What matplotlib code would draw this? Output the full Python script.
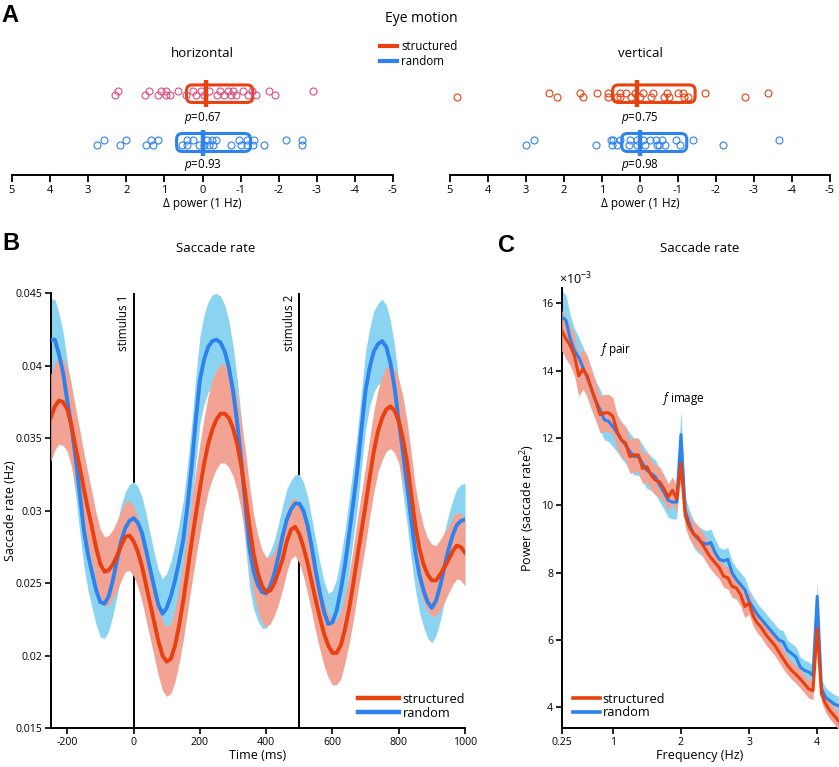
import numpy as np
import matplotlib
matplotlib.use('Agg')
import matplotlib.pyplot as plt
from matplotlib.patches import FancyBboxPatch
from matplotlib.lines import Line2D

plt.rcParams['font.family'] = ['Open Sans', 'DejaVu Sans']
plt.rcParams['mathtext.fontset'] = 'custom'
plt.rcParams['mathtext.rm'] = 'Open Sans'
plt.rcParams['mathtext.it'] = 'Open Sans:italic'
plt.rcParams['mathtext.bf'] = 'Open Sans:bold'
plt.rcParams['axes.unicode_minus'] = False

RED = '#e8400f'
BLUE = '#2e82ee'
RED_BAND = '#f2a394'
BLUE_BAND = '#8ad4f2'
PINK = '#e24b7c'

# ---------------- Panel A data (delta power at 1 Hz) ----------------
horiz_struct_upper = [2.22, 1.41, 1.09, 0.97, 0.64, 0.25, 0.04, -0.18, -0.47, -0.67, -0.81, -1.05, -1.31, -1.74, -2.91]
horiz_struct_lower = [2.30, 1.51, 1.16, 0.95, 0.84, 0.42, 0.16, -0.04, -0.37, -0.57, -0.74, -0.88, -1.20, -1.40, -1.91]
horiz_rand_upper = [2.59, 2.01, 1.34, 1.18, 0.40, 0.25, -0.12, -0.26, -0.35, -0.95, -1.16, -1.35, -2.19, -2.60]
horiz_rand_lower = [2.77, 2.17, 1.47, 1.31, 0.55, 0.40, 0.09, -0.04, -0.17, -0.28, -0.74, -1.02, -1.17, -1.33, -1.61, -2.60]
vert_struct_upper = [2.39, 1.58, 1.14, 0.83, 0.53, 0.37, 0.13, -0.07, -0.35, -0.72, -0.99, -1.14, -1.71, -3.38]
vert_struct_lower = [4.82, 2.19, 1.49, 0.83, 0.61, 0.53, 0.25, 0.0, -0.29, -0.64, -0.77, -1.17, -1.25, -2.75]
vert_rand_upper = [2.79, 0.77, 0.72, 0.53, 0.26, 0.09, -0.07, -0.26, -0.42, -0.57, -0.95, -1.40, -3.66]
vert_rand_lower = [3.0, 1.16, 0.75, 0.61, 0.28, 0.09, -0.13, -0.44, -0.51, -0.66, -1.05, -2.19]

horiz_struct_box = (0.42, -1.32)
horiz_struct_median = -0.10
horiz_rand_box = (0.68, -1.26)
horiz_rand_median = 0.0
vert_struct_box = (0.72, -1.45)
vert_struct_median = 0.09
vert_rand_box = (0.48, -1.23)
vert_rand_median = 0.0

horiz_p = ['0.67', '0.93']
vert_p = ['0.75', '0.98']
a_ticks = [5, 4, 3, 2, 1, 0, -1, -2, -3, -4, -5]
a_ticklabels = ['5', '4', '3', '2', '1', '0', '-1', '-2', '-3', '-4', '-5']

# ---------------- Panel B data (saccade rate, Hz), every 12.5 ms from -250 to 1000 ----------------
time_ms = np.arange(-250, 1000.1, 12.5)
struct_rate = [0.0364, 0.0372, 0.0376, 0.0375, 0.0370, 0.0359, 0.0344, 0.0330, 0.0315, 0.0301,
               0.0288, 0.0274, 0.0263, 0.0258, 0.0259, 0.0263, 0.0269, 0.0276, 0.0282, 0.0283,
               0.0279, 0.0272, 0.0262, 0.0249, 0.0236, 0.0223, 0.0210, 0.0200, 0.0196, 0.0198,
               0.0207, 0.0221, 0.0238, 0.0258, 0.0278, 0.0297, 0.0315, 0.0332, 0.0346, 0.0356,
               0.0363, 0.0367, 0.0367, 0.0364, 0.0357, 0.0346, 0.0331, 0.0311, 0.0289, 0.0270,
               0.0257, 0.0248, 0.0244, 0.0245, 0.0250, 0.0258, 0.0267, 0.0279, 0.0287, 0.0289,
               0.0284, 0.0275, 0.0264, 0.0251, 0.0238, 0.0226, 0.0215, 0.0207, 0.0202, 0.0202,
               0.0207, 0.0218, 0.0232, 0.0249, 0.0268, 0.0286, 0.0304, 0.0323, 0.0341, 0.0355,
               0.0364, 0.0370, 0.0372, 0.0369, 0.0362, 0.0350, 0.0334, 0.0312, 0.0290, 0.0274,
               0.0263, 0.0256, 0.0252, 0.0252, 0.0256, 0.0261, 0.0266, 0.0272, 0.0276, 0.0275,
               0.0271]
rand_rate = [0.0418, 0.0418, 0.0408, 0.0395, 0.0376, 0.0358, 0.0337, 0.0312, 0.0287, 0.0270,
             0.0257, 0.0245, 0.0237, 0.0236, 0.0241, 0.0252, 0.0266, 0.0279, 0.0288, 0.0293,
             0.0295, 0.0292, 0.0285, 0.0273, 0.0260, 0.0247, 0.0235, 0.0229, 0.0233, 0.0241,
             0.0252, 0.0265, 0.0280, 0.0303, 0.0330, 0.0362, 0.0390, 0.0404, 0.0413, 0.0417,
             0.0418, 0.0416, 0.0410, 0.0399, 0.0383, 0.0361, 0.0335, 0.0304, 0.0274, 0.0258,
             0.0249, 0.0244, 0.0243, 0.0248, 0.0257, 0.0269, 0.0283, 0.0294, 0.0301, 0.0305,
             0.0305, 0.0300, 0.0290, 0.0275, 0.0258, 0.0243, 0.0230, 0.0222, 0.0223, 0.0231,
             0.0245, 0.0262, 0.0283, 0.0305, 0.0328, 0.0356, 0.0383, 0.0399, 0.0410, 0.0415,
             0.0417, 0.0413, 0.0402, 0.0385, 0.0362, 0.0341, 0.0318, 0.0294, 0.0272, 0.0256,
             0.0245, 0.0237, 0.0233, 0.0238, 0.0248, 0.0261, 0.0273, 0.0283, 0.0290, 0.0293,
             0.0294]
struct_rate_err = [0.0030, 0.0030, 0.0030, 0.0030, 0.0029, 0.0028, 0.0027, 0.0026, 0.0025, 0.0025,
                   0.0024, 0.0024, 0.0024, 0.0024, 0.0024, 0.0024, 0.0024, 0.0024, 0.0024, 0.0024,
                   0.0024, 0.0024, 0.0024, 0.0024, 0.0024, 0.0024, 0.0024, 0.0024, 0.0024, 0.0024,
                   0.0025, 0.0026, 0.0027, 0.0028, 0.0029, 0.0030, 0.0031, 0.0032, 0.0033, 0.0034,
                   0.0034, 0.0034, 0.0034, 0.0034, 0.0033, 0.0032, 0.0031, 0.0030, 0.0028, 0.0027,
                   0.0026, 0.0025, 0.0024, 0.0023, 0.0022, 0.0022, 0.0021, 0.0021, 0.0020, 0.0020,
                   0.0020, 0.0020, 0.0021, 0.0021, 0.0022, 0.0022, 0.0022, 0.0022, 0.0022, 0.0022,
                   0.0023, 0.0023, 0.0024, 0.0025, 0.0026, 0.0026, 0.0027, 0.0027, 0.0028, 0.0028,
                   0.0029, 0.0029, 0.0029, 0.0029, 0.0029, 0.0029, 0.0028, 0.0028, 0.0027, 0.0027,
                   0.0026, 0.0025, 0.0025, 0.0024, 0.0024, 0.0024, 0.0023, 0.0023, 0.0023, 0.0023,
                   0.0023]
rand_rate_err = [0.0028, 0.0028, 0.0028, 0.0028, 0.0027, 0.0027, 0.0026, 0.0026, 0.0025, 0.0025,
                 0.0024, 0.0024, 0.0024, 0.0024, 0.0024, 0.0024, 0.0025, 0.0025, 0.0025, 0.0025,
                 0.0025, 0.0025, 0.0025, 0.0025, 0.0024, 0.0024, 0.0024, 0.0024, 0.0024, 0.0024,
                 0.0025, 0.0026, 0.0027, 0.0028, 0.0029, 0.0030, 0.0030, 0.0031, 0.0031, 0.0032,
                 0.0032, 0.0032, 0.0032, 0.0032, 0.0031, 0.0030, 0.0029, 0.0028, 0.0027, 0.0026,
                 0.0025, 0.0025, 0.0024, 0.0024, 0.0023, 0.0022, 0.0021, 0.0021, 0.0020, 0.0020,
                 0.0020, 0.0020, 0.0020, 0.0020, 0.0021, 0.0021, 0.0021, 0.0021, 0.0022, 0.0022,
                 0.0023, 0.0024, 0.0025, 0.0025, 0.0026, 0.0026, 0.0027, 0.0027, 0.0028, 0.0028,
                 0.0029, 0.0029, 0.0029, 0.0029, 0.0028, 0.0028, 0.0027, 0.0027, 0.0026, 0.0026,
                 0.0025, 0.0025, 0.0024, 0.0024, 0.0024, 0.0024, 0.0024, 0.0024, 0.0025, 0.0025,
                 0.0025]
b_yticks = [0.015, 0.02, 0.025, 0.03, 0.035, 0.04, 0.045]
b_yticklabels = ['0.015', '0.02', '0.025', '0.03', '0.035', '0.04', '0.045']
b_xticks = [-200, 0, 200, 400, 600, 800, 1000]
stimulus_times = [0, 500]
stimulus_labels = ['stimulus 1', 'stimulus 2']

# ---------------- Panel C data (power, x10^-3) ----------------
freq_hz = np.arange(0.25, 4.32, 0.0625)
struct_power = [15.2, 14.95, 14.75, 14.45, 13.85, 14.05, 13.85, 13.45, 13.1, 12.7,
                12.75, 12.75, 12.65, 12.2, 11.95, 11.85, 11.45, 11.5, 11.5, 11.1,
                11.15, 10.9, 10.75, 10.7, 10.5, 10.25, 10.45, 10.2, 11.25, 9.7,
                9.35, 9.15, 9.05, 8.85, 8.65, 8.45, 8.3, 8.15, 7.9, 7.85,
                7.6, 7.55, 7.35, 7.0, 7.1, 6.7, 6.5, 6.35, 6.15, 6.0,
                5.85, 5.65, 5.45, 5.25, 5.1, 4.98, 4.85, 4.7, 4.55, 4.5,
                6.35, 4.4, 4.1, 3.9, 3.75, 3.6]
rand_power = [15.6, 15.5, 14.95, 14.6, 14.4, 14.1, 13.8, 13.45, 13.1, 12.85,
              12.55, 12.5, 12.35, 12.15, 11.95, 11.8, 11.6, 11.45, 11.45, 11.25,
              11.05, 10.95, 10.85, 10.6, 10.4, 10.15, 10.1, 10.1, 12.1, 9.85,
              9.45, 9.15, 9.0, 8.9, 8.85, 8.9, 8.6, 8.4, 8.35, 8.4,
              8.0, 7.8, 7.65, 7.5, 7.15, 6.95, 6.75, 6.6, 6.45, 6.3,
              6.15, 6.0, 5.95, 5.7, 5.6, 5.5, 5.2, 5.1, 5.05, 4.95,
              7.3, 4.55, 4.3, 4.2, 4.1, 4.05]
struct_power_err = [0.6, 0.6, 0.6, 0.6, 0.6, 0.6, 0.6, 0.6, 0.55, 0.55,
                    0.55, 0.55, 0.55, 0.5, 0.5, 0.5, 0.5, 0.5, 0.5, 0.45,
                    0.45, 0.45, 0.45, 0.45, 0.4, 0.4, 0.4, 0.4, 0.45, 0.35,
                    0.35, 0.35, 0.35, 0.35, 0.35, 0.35, 0.35, 0.33, 0.33, 0.33,
                    0.33, 0.33, 0.33, 0.33, 0.33, 0.3, 0.3, 0.3, 0.3, 0.3,
                    0.3, 0.3, 0.3, 0.27, 0.27, 0.27, 0.27, 0.27, 0.27, 0.27,
                    0.35, 0.25, 0.25, 0.25, 0.25, 0.25]
rand_power_err = [0.8, 0.75, 0.7, 0.65, 0.6, 0.6, 0.6, 0.6, 0.6, 0.6,
                  0.6, 0.6, 0.6, 0.55, 0.55, 0.55, 0.55, 0.55, 0.55, 0.55,
                  0.55, 0.5, 0.5, 0.5, 0.5, 0.5, 0.5, 0.5, 0.7, 0.4,
                  0.4, 0.4, 0.4, 0.4, 0.4, 0.4, 0.4, 0.35, 0.35, 0.35,
                  0.35, 0.35, 0.35, 0.35, 0.35, 0.33, 0.33, 0.33, 0.33, 0.33,
                  0.33, 0.33, 0.33, 0.3, 0.3, 0.3, 0.3, 0.3, 0.3, 0.3,
                  0.4, 0.28, 0.28, 0.28, 0.28, 0.28]
c_xticks = [0.25, 1, 2, 3, 4]
c_xticklabels = ['0.25', '1', '2', '3', '4']
c_yticks = [4, 6, 8, 10, 12, 14, 16]

W, H = 839, 767
fig = plt.figure(figsize=(W / 100, H / 100), dpi=100)


def fx(px):
    return px / W


def fy(py):
    return 1 - py / H


def panel_a(left_px, right_px, su, sl, ru, rl, sbox, smed, rbox, rmed, pvals, scolor, title,
            s_rows):
    ax = fig.add_axes([fx(left_px), fy(175), fx(right_px - left_px), 105 / H])
    ax.set_xlim(5, -5)
    ax.set_ylim(0, 105)
    s_up, s_lo = s_rows
    r_up, r_lo = 175 - 140, 175 - 144.7
    for vals, yy, col in [(su, s_up, scolor), (sl, s_lo, scolor),
                          (ru, r_up, BLUE), (rl, r_lo, BLUE)]:
        ax.plot(vals, [yy] * len(vals), 'o', mfc='none', mec=col, ms=5.0, mew=0.8,
                linestyle='none', clip_on=False)
    xscale = (right_px - left_px) / 10.0
    for box, med, ycen, col, hb, hm in [(sbox, smed, 175 - 93.7, RED, 17.5, 26.5),
                                         (rbox, rmed, 175 - 142.5, BLUE, 18.0, 26.0)]:
        x0 = min(box)
        wdt = abs(box[0] - box[1])
        patch = FancyBboxPatch((x0, ycen - hb / 2), wdt, hb,
                               boxstyle='round,pad=0,rounding_size=0.15',
                               mutation_aspect=xscale, fill=False, ec=col, lw=2.2,
                               clip_on=False)
        ax.add_patch(patch)
        ax.plot([med, med], [ycen - hm / 2, ycen + hm / 2], color=col, lw=3.2,
                solid_capstyle='butt', clip_on=False)
    ax.text(0, 175 - 117.5, '$p$=' + pvals[0], ha='center', va='center', fontsize=8.3)
    ax.text(0, 175 - 165, '$p$=' + pvals[1], ha='center', va='center', fontsize=8.3)
    ax.text(0, 175 - 53.5, title, ha='center', va='center', fontsize=9.5)
    for s in ['left', 'top', 'right']:
        ax.spines[s].set_visible(False)
    ax.spines['bottom'].set_linewidth(1.4)
    ax.set_yticks([])
    ax.set_xticks(a_ticks)
    ax.set_xticklabels(a_ticklabels)
    ax.tick_params(axis='x', direction='out', length=5, width=1.3, labelsize=8, pad=2)
    ax.set_xlabel('Δ power (1 Hz)', fontsize=8.5, labelpad=1)
    return ax


panel_a(12, 393, horiz_struct_upper, horiz_struct_lower, horiz_rand_upper, horiz_rand_lower,
        horiz_struct_box, horiz_struct_median, horiz_rand_box, horiz_rand_median,
        horiz_p, PINK, 'horizontal', (175 - 90.7, 175 - 95))
panel_a(450, 830, vert_struct_upper, vert_struct_lower, vert_rand_upper, vert_rand_lower,
        vert_struct_box, vert_struct_median, vert_rand_box, vert_rand_median,
        vert_p, RED, 'vertical', (175 - 92.7, 175 - 97.3))

fig.text(fx(421), fy(19), 'Eye motion', ha='center', va='center', fontsize=10)
leg_handles = [Line2D([], [], color=RED, lw=3), Line2D([], [], color=BLUE, lw=3)]
fig.legend(leg_handles, ['structured', 'random'], loc='upper left',
           bbox_to_anchor=(fx(380), fy(40)), frameon=False, fontsize=8.3,
           handlelength=1.5, handletextpad=0.35, labelspacing=0.15, borderpad=0,
           borderaxespad=0)

# panel letters
for letter, px, py in [('A', 1, 15.5), ('B', 2, 244), ('C', 498, 245)]:
    fig.text(fx(px), fy(py), letter, ha='left', va='center', fontsize=17,
             fontweight='bold', family='Liberation Sans')

# panel titles
fig.text(fx(216), fy(248), 'Saccade rate', ha='center', va='center', fontsize=9.5)
fig.text(fx(700), fy(248), 'Saccade rate', ha='center', va='center', fontsize=9.5)

# ---------------- Panel B ----------------
bl, br, bt, bb = 50.7, 465.0, 293.3, 728.3
axB = fig.add_axes([fx(bl), fy(bb), fx(br - bl), (bb - bt) / H])
axB.set_xlim(-250, 1000)
axB.set_ylim(0.015, 0.045)
sr = np.array(struct_rate)
rr = np.array(rand_rate)
se = np.array(struct_rate_err)
re_ = np.array(rand_rate_err)
for t, lab in zip(stimulus_times, stimulus_labels):
    axB.plot([t, t], [0.015, 0.045], color='black', lw=1.4, zorder=1)
    axB.annotate(lab, xy=(t, 0.045), xytext=(-2.5, -1), textcoords='offset points',
                 rotation=90, ha='right', va='top', fontsize=8.5)
axB.fill_between(time_ms, rr - re_, rr + re_, color=BLUE_BAND, lw=0, zorder=2)
axB.fill_between(time_ms, sr - se, sr + se, color=RED_BAND, lw=0, zorder=3)
axB.plot(time_ms, rr, color=BLUE, lw=2.8, zorder=4, solid_joinstyle='round')
axB.plot(time_ms, sr, color=RED, lw=2.8, zorder=5, solid_joinstyle='round')
axB.set_yticks(b_yticks)
axB.set_yticklabels(b_yticklabels)
axB.set_xticks(b_xticks)
for s in ['top', 'right']:
    axB.spines[s].set_visible(False)
for s in ['left', 'bottom']:
    axB.spines[s].set_linewidth(1.4)
axB.tick_params(direction='out', length=4, width=1.2, labelsize=7.6, pad=2)
axB.set_xlabel('Time (ms)', fontsize=9, labelpad=1)
axB.set_ylabel('Saccade rate (Hz)', fontsize=9)
axB.yaxis.set_label_coords((17 - bl) / (br - bl), 0.5)
hB = [Line2D([], [], color=RED, lw=3.2), Line2D([], [], color=BLUE, lw=3.2)]
axB.legend(hB, ['structured', 'random'], loc='lower right', bbox_to_anchor=(1.0, 0.02),
           frameon=False, fontsize=9.2, handlelength=3.2, handletextpad=0.25,
           labelspacing=0.05, borderpad=0, borderaxespad=0)

# ---------------- Panel C ----------------
cl, cr, ct, cb = 561.7, 838.5, 288.3, 728.3
axC = fig.add_axes([fx(cl), fy(cb), fx(cr - cl), (cb - ct) / H])
axC.set_xlim(0.25, 4.3125)
axC.set_ylim(3.38, 16.45)
sp = np.array(struct_power)
rp = np.array(rand_power)
spe = np.array(struct_power_err)
rpe = np.array(rand_power_err)
axC.fill_between(freq_hz, rp - rpe, rp + rpe, color=BLUE_BAND, lw=0, zorder=2)
axC.fill_between(freq_hz, sp - spe, sp + spe, color=RED_BAND, lw=0, zorder=3)
axC.plot(freq_hz, rp, color=BLUE, lw=2.2, zorder=4)
axC.plot(freq_hz, sp, color=RED, lw=2.2, zorder=5)
axC.set_xticks(c_xticks)
axC.set_xticklabels(c_xticklabels)
axC.set_yticks(c_yticks)
for s in ['top', 'right']:
    axC.spines[s].set_visible(False)
for s in ['left', 'bottom']:
    axC.spines[s].set_linewidth(1.4)
axC.tick_params(direction='out', length=4, width=1.2, labelsize=7.6, pad=2)
axC.set_xlabel('Frequency (Hz)', fontsize=9, labelpad=1)
axC.set_ylabel('Power (saccade rate$^2$)', fontsize=9)
axC.yaxis.set_label_coords((537 - cl) / (cr - cl), 0.5)
axC.text(fx(559), fy(279), '×10$^{-3}$', transform=fig.transFigure, ha='left', va='center',
         fontsize=9)
axC.text(0.81, 14.63, '$f$ pair', ha='left', va='center', fontsize=8.5)
axC.text(1.72, 13.18, '$f$ image', ha='left', va='center', fontsize=8.5)
hC = [Line2D([], [], color=RED, lw=2.6), Line2D([], [], color=BLUE, lw=2.6)]
axC.legend(hC, ['structured', 'random'], loc='lower left', bbox_to_anchor=(0.04, 0.02),
           frameon=False, fontsize=9.2, handlelength=2.1, handletextpad=0.25,
           labelspacing=0.05, borderpad=0, borderaxespad=0)

fig.savefig('out.png', dpi=100)
